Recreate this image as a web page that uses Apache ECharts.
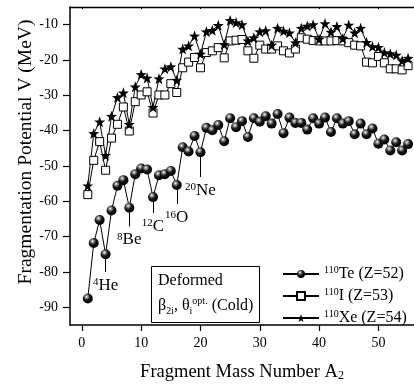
<!DOCTYPE html>
<html>
<head>
<meta charset="utf-8">
<script src="https://cdn.jsdelivr.net/npm/echarts@6/dist/echarts.min.js"></script>
<style>
  html, body { margin: 0; padding: 0; background: #fff; }
  #chart { width: 414px; height: 387px; }
</style>
</head>
<body>
<div id="chart"></div>
<script>
// fragment mass numbers A2
const fragA = [1, 2, 3, 4, 5, 6, 7, 8, 9, 10, 11, 12, 13, 14, 15, 16, 17, 18, 19, 20,
  21, 22, 23, 24, 25, 26, 27, 28, 29, 30, 31, 32, 33, 34, 35, 36, 37, 38, 39, 40,
  41, 42, 43, 44, 45, 46, 47, 48, 49, 50, 51, 52, 53, 54, 55];

// 110Te (Z=52)
const teV = [-87.5, -71.8, -65.3, -75.0, -62.6, -55.6, -54.0, -61.8, -52.3, -50.7,
  -51.0, -58.8, -52.6, -52.3, -51.4, -55.4, -44.7, -45.9, -41.5, -46.1,
  -39.2, -39.9, -38.4, -43.0, -36.5, -39.0, -37.3, -41.8, -36.5, -37.5,
  -35.9, -38.0, -35.3, -40.7, -36.3, -37.8, -37.8, -39.7, -36.5, -38.0,
  -36.3, -40.4, -36.5, -38.0, -37.3, -41.0, -38.0, -41.0, -39.4, -43.7,
  -42.5, -45.6, -43.3, -45.6, -43.8];

// 110I (Z=53)
const iV = [-58.1, -48.4, -43.1, -51.2, -42.1, -38.2, -33.3, -40.1, -31.8, -29.9,
  -29.0, -35.0, -29.9, -29.9, -26.7, -29.2, -22.2, -20.6, -19.3, -22.2,
  -17.9, -17.4, -16.5, -19.4, -14.6, -14.4, -14.2, -17.4, -19.5, -15.8,
  -16.9, -16.9, -16.0, -17.4, -18.0, -16.9, -13.7, -14.1, -14.5, -14.6,
  -14.6, -14.6, -14.5, -14.6, -15.1, -15.8, -16.0, -20.6, -20.8, -19.0,
  -20.8, -22.5, -22.5, -22.8, -21.6];

// 110Xe (Z=54)
const xeV = [-55.6, -40.8, -37.5, -47.0, -35.9, -30.6, -29.3, -38.2, -27.6, -24.1,
  -25.1, -33.4, -25.3, -22.5, -21.9, -25.7, -16.9, -16.0, -13.2, -18.3,
  -12.0, -11.6, -10.2, -15.6, -8.8, -9.4, -10.0, -14.6, -13.7, -12.0,
  -11.7, -15.8, -11.0, -11.8, -12.3, -15.1, -11.0, -10.4, -10.0, -14.1,
  -9.7, -12.1, -10.5, -13.9, -10.1, -12.3, -11.0, -15.0, -16.2, -16.4,
  -17.9, -18.2, -18.6, -20.2, -19.5];

const seriesNames = ['Te (Z=52)', 'I (Z=53)', 'Xe (Z=54)'];
const parentMass = '110';

const xTicks = [0, 10, 20, 30, 40, 50];
const yTicks = [-90, -80, -70, -60, -50, -40, -30, -20, -10];

// labelled fragments on the Te curve
const markA = [4, 8, 12, 16, 20];
const markMass = ['4', '8', '12', '16', '20'];
const markElem = ['He', 'Be', 'C', 'O', 'Ne'];
const markEnd = [-80.0, -67.1, -63.3, -60.8, -53.1];

const serif = 'Liberation Serif';
const starPath = 'path://M0,-10L2.35,-3.24L9.51,-3.09L3.8,1.24L5.88,8.09L0,4L-5.88,8.09L-3.8,1.24L-9.51,-3.09L-2.35,-3.24Z';

const ball = {
  type: 'radial', x: 0.38, y: 0.32, r: 0.7,
  colorStops: [
    { offset: 0, color: '#ffffff' },
    { offset: 0.18, color: '#9a9a9a' },
    { offset: 0.5, color: '#151515' },
    { offset: 1, color: '#000000' }
  ]
};

const pairs = (vals) => fragA.map((a, i) => [a, vals[i]]);

const chart = echarts.init(document.getElementById('chart'), null, { renderer: 'canvas' });

const option = {
  animation: false,
  backgroundColor: '#fff',
  textStyle: { fontFamily: serif, color: '#000' },
  grid: { left: 70, right: -4, top: 7, bottom: 56 },
  legend: {
    left: 277,
    top: 260,
    orient: 'vertical',
    itemWidth: 36,
    itemHeight: 10,
    itemGap: 4,
    data: seriesNames,
    formatter: (name) => '{sup|' + parentMass + '}' + name,
    textStyle: {
      fontFamily: serif, fontSize: 16, color: '#000', lineHeight: 18,
      rich: { sup: { fontFamily: serif, fontSize: 10, color: '#000', verticalAlign: 'top', lineHeight: 8 } }
    }
  },
  xAxis: [
    {
      type: 'value',
      min: -2,
      max: 56,
      position: 'bottom',
      axisLine: { show: true, onZero: false, lineStyle: { color: '#000', width: 1.5 } },
      axisTick: { show: true, length: 6, customValues: xTicks, lineStyle: { color: '#000', width: 1.2 } },
      axisLabel: { customValues: xTicks, color: '#000', fontFamily: serif, fontSize: 14, margin: 11 },
      splitLine: { show: false },
      name: 'Fragment Mass Number A{sub|2}',
      nameLocation: 'middle',
      nameGap: 37,
      nameMoveOverlap: false,
      nameTextStyle: {
        fontFamily: serif, fontSize: 18.5, color: '#000', lineHeight: 20,
        rich: { sub: { fontFamily: serif, fontSize: 12, color: '#000', verticalAlign: 'bottom', lineHeight: 8 } }
      }
    },
    {
      // top frame line
      type: 'value',
      min: -2,
      max: 56,
      position: 'top',
      axisLine: { show: true, onZero: false, lineStyle: { color: '#000', width: 1.3 } },
      axisTick: { show: true, inside: true, length: 2, customValues: xTicks, lineStyle: { color: '#000' } },
      axisLabel: { show: false },
      splitLine: { show: false }
    }
  ],
  yAxis: {
    type: 'value',
    min: -95,
    max: -5,
    axisLine: { show: true, onZero: false, lineStyle: { color: '#000', width: 1.5 } },
    axisTick: { show: true, length: 7, customValues: yTicks, lineStyle: { color: '#000', width: 1.2 } },
    axisLabel: { customValues: yTicks, color: '#000', fontFamily: serif, fontSize: 14, margin: 12 },
    splitLine: { show: false },
    name: 'Fragmentation Potential V (MeV)',
    nameLocation: 'middle',
    nameGap: 34,
    nameMoveOverlap: false,
    nameTextStyle: { fontFamily: serif, fontSize: 19.5, color: '#000', padding: [0, 0, 0, 28] }
  },
  series: [
    {
      name: seriesNames[0],
      type: 'line',
      data: pairs(teV),
      symbol: 'circle',
      symbolSize: 10,
      showAllSymbol: true,
      lineStyle: { color: '#000', width: 1 },
      itemStyle: { color: ball },
      markLine: {
        silent: true,
        symbol: 'none',
        animation: false,
        lineStyle: { color: '#000', width: 1, type: 'solid' },
        label: {
          position: 'end',
          distance: 5,
          color: '#000',
          fontFamily: serif,
          fontSize: 17,
          formatter: (p) => p.name,
          rich: { sup: { fontFamily: serif, fontSize: 11, color: '#000', verticalAlign: 'top', lineHeight: 8 } }
        },
        data: markA.map((a, i) => [
          { coord: [a, teV[a - 1] - 1.3], name: '{sup|' + markMass[i] + '}' + markElem[i] },
          { coord: [a, markEnd[i]] }
        ])
      }
    },
    {
      name: seriesNames[1],
      type: 'line',
      data: pairs(iV),
      symbol: 'rect',
      symbolSize: 8,
      showAllSymbol: true,
      lineStyle: { color: '#000', width: 1 },
      itemStyle: { color: '#fff', borderColor: '#000', borderWidth: 1 }
    },
    {
      name: seriesNames[2],
      type: 'line',
      data: pairs(xeV),
      symbol: starPath,
      symbolSize: 11,
      showAllSymbol: true,
      lineStyle: { color: '#000', width: 1 },
      itemStyle: { color: '#000' }
    }
  ],
  graphic: [
    {
      type: 'rect',
      left: 151,
      top: 266,
      z: 10,
      shape: { width: 108, height: 56 },
      style: { fill: '#fff', stroke: '#000', lineWidth: 1 }
    },
    {
      type: 'text',
      left: 158,
      top: 273,
      z: 11,
      style: { text: 'Deformed', fontFamily: serif, fontSize: 16, fill: '#000' }
    },
    {
      type: 'text',
      left: 158,
      top: 296,
      z: 11,
      style: {
        text: '{n|β}{sub|2i}{n|, θ}{sub|i}{sup|opt.}{n| (Cold)}',
        fontFamily: serif,
        fontSize: 16,
        fill: '#000',
        rich: {
          n: { fontFamily: serif, fontSize: 16, fill: '#000', lineHeight: 20 },
          sub: { fontFamily: serif, fontSize: 10, fill: '#000', verticalAlign: 'bottom', lineHeight: 6 },
          sup: { fontFamily: serif, fontSize: 10, fill: '#000', verticalAlign: 'top', lineHeight: 6 }
        }
      }
    }
  ]
};

chart.setOption(option);
</script>
</body>
</html>
